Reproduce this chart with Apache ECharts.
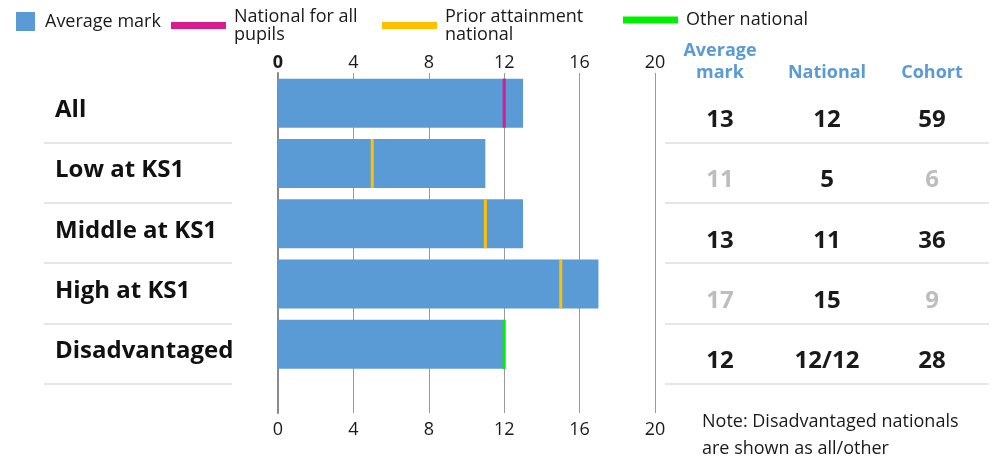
<!DOCTYPE html>
<html>
<head>
<meta charset="utf-8">
<script src="https://cdn.jsdelivr.net/npm/echarts@6/dist/echarts.min.js"></script>
<style>
html,body{margin:0;padding:0;background:#fff;}
#chart{width:999px;height:458px;}
</style>
</head>
<body>
<div id="chart"></div>
<script>
// ---- data ----
const categories = ['All', 'Low at KS1', 'Middle at KS1', 'High at KS1', 'Disadvantaged'];
const averageMark = [13, 11, 13, 17, 12];
const nationalAll = [12, null, null, null, null];
const priorNational = [null, 5, 11, 15, null];
const otherNational = [null, null, null, null, 12];
const nationalText = ['12', '5', '11', '15', '12/12'];
const cohort = [59, 6, 36, 9, 28];
const muted = [false, true, false, true, false];
const xMin = 0, xMax = 20, xStep = 4;
const headers = ['Average\nmark', 'National', 'Cohort'];
const noteText = 'Note: Disadvantaged nationals\nare shown as all/other';

const FONT = '"Open Sans", sans-serif';
const BLUE = '#5b9bd5';
const TEXT = '#1a1a1a';
const GRAY = '#bdbdbd';

function toPairs(arr) {
  const out = [];
  arr.forEach((v, i) => { if (v !== null) out.push([v, categories[i]]); });
  return out;
}

function tableAxis(offset, getter, useMuted) {
  return {
    gridIndex: 0, type: 'category', data: categories, inverse: true,
    position: 'right', offset: offset,
    axisLine: {show: false}, axisTick: {show: false}, splitLine: {show: false},
    axisLabel: {
      interval: 0, margin: 0, align: 'center',
      fontSize: 24, fontWeight: 'bold', fontFamily: FONT,
      verticalAlign: 'top', lineHeight: 34,
      color: (v) => (useMuted && muted[categories.indexOf(v)]) ? GRAY : TEXT,
      formatter: (v, i) => String(getter(i))
    }
  };
}

function lineLegend(name, left, label, twoLines) {
  return {
    data: [name], left: left, top: twoLines ? 0 : 11, padding: 0,
    itemWidth: 55, itemHeight: 7, icon: 'rect', selectedMode: false,
    formatter: () => label,
    textStyle: {
      fontSize: 18, color: TEXT, fontFamily: FONT,
      lineHeight: 18,
      padding: twoLines ? [15, 0, 0, 3] : [0, 0, 0, 3]
    }
  };
}

const chart = echarts.init(document.getElementById('chart'), null, {renderer: 'canvas'});

const option = {
  animation: false,
  backgroundColor: '#fff',
  textStyle: {fontFamily: FONT},
  legend: [
    {
      data: ['Average mark'], left: 16, top: 12, padding: 0,
      itemWidth: 19, itemHeight: 19, icon: 'rect', selectedMode: false,
      textStyle: {fontSize: 18, color: TEXT, fontFamily: FONT, lineHeight: 19, padding: [0, 0, 0, 5]}
    },
    lineLegend('National for all pupils', 171, 'National for all\npupils', true),
    lineLegend('Prior attainment national', 382, 'Prior attainment\nnational', true),
    lineLegend('Other national', 623, 'Other national', false)
  ],
  grid: [
    {left: 278, width: 377, top: 73, height: 301.5},
    {left: 278, width: 377, top: 73, height: 340}
  ],
  xAxis: [
    {gridIndex: 0, type: 'value', min: xMin, max: xMax, interval: xStep, show: false},
    {
      gridIndex: 1, type: 'value', position: 'top', min: xMin, max: xMax, interval: xStep,
      axisLine: {show: false}, axisTick: {show: false},
      splitLine: {show: true, lineStyle: {color: '#9a9a9a', width: 1}},
      axisLabel: {
        margin: 1, fontSize: 18, color: TEXT, fontFamily: FONT,
        formatter: (v) => v === 0 ? '{b|0}' : String(v),
        rich: {b: {fontWeight: 'bold', fontSize: 18, color: TEXT, fontFamily: FONT}}
      }
    },
    {
      gridIndex: 1, type: 'value', position: 'bottom', min: xMin, max: xMax, interval: xStep,
      axisLine: {show: false}, axisTick: {show: false}, splitLine: {show: false},
      axisLabel: {margin: 8, fontSize: 18, color: TEXT, fontFamily: FONT}
    }
  ],
  yAxis: [
    {
      gridIndex: 0, type: 'category', data: categories, inverse: true,
      axisLine: {show: false}, axisTick: {show: false}, splitLine: {show: false},
      axisLabel: {
        interval: 0, align: 'left', margin: 223,
        fontSize: 24, fontWeight: 'bold', color: '#111', fontFamily: FONT,
        verticalAlign: 'top', lineHeight: 14
      }
    },
    tableAxis(65, (i) => averageMark[i], true),
    tableAxis(172, (i) => nationalText[i], false),
    tableAxis(277, (i) => cohort[i], true),
    {
      gridIndex: 1, type: 'value', min: 0, max: 1,
      axisLine: {show: true, lineStyle: {color: '#8a8a8a', width: 2}},
      axisTick: {show: false}, axisLabel: {show: false}, splitLine: {show: false}
    }
  ],
  series: [
    {
      name: 'Average mark', type: 'bar', xAxisIndex: 0, yAxisIndex: 0,
      data: averageMark, barWidth: 49, itemStyle: {color: BLUE}, silent: true, z: 2
    },
    {
      name: 'National for all pupils', type: 'scatter', xAxisIndex: 0, yAxisIndex: 0,
      data: toPairs(nationalAll), symbol: 'rect', symbolSize: [3, 49],
      itemStyle: {color: '#d81b93', opacity: 1}, silent: true, z: 3
    },
    {
      name: 'Prior attainment national', type: 'scatter', xAxisIndex: 0, yAxisIndex: 0,
      data: toPairs(priorNational), symbol: 'rect', symbolSize: [3, 49],
      itemStyle: {color: '#ffc000', opacity: 1}, silent: true, z: 3
    },
    {
      name: 'Other national', type: 'scatter', xAxisIndex: 0, yAxisIndex: 0,
      data: toPairs(otherNational), symbol: 'rect', symbolSize: [3, 49],
      itemStyle: {color: '#00f000', opacity: 1}, silent: true, z: 3
    }
  ]
};

chart.setOption(option);

// header, note and row separators placed from the axis scale
const centers = categories.map(c => chart.convertToPixel({gridIndex: 0}, [0, c])[1]);
const step = centers[1] - centers[0];
const graphics = [];
centers.forEach((cy, i) => {
  const y = Math.round(cy + step / 2 + 9.5);
  graphics.push({type: 'line', silent: true, shape: {x1: 44, y1: y, x2: 232, y2: y}, style: {stroke: '#e6e6e6', lineWidth: 2}});
  graphics.push({type: 'line', silent: true, shape: {x1: 665, y1: y, x2: 989, y2: y}, style: {stroke: '#e6e6e6', lineWidth: 2}});
});
const colX = [720, 827, 932];
headers.forEach((h, i) => {
  graphics.push({
    type: 'text', silent: true, x: colX[i], y: h.indexOf('\n') >= 0 ? 62 : 73,
    style: {text: h, align: 'center', verticalAlign: 'middle', fontSize: 18, fontWeight: 'bold',
            fontFamily: FONT, fill: BLUE, lineHeight: 22}
  });
});
graphics.push({
  type: 'text', silent: true, x: 702, y: 435,
  style: {text: noteText, align: 'left', verticalAlign: 'middle', fontSize: 18,
          fontFamily: FONT, fill: TEXT, lineHeight: 27}
});
chart.setOption({graphic: graphics});
</script>
</body>
</html>
